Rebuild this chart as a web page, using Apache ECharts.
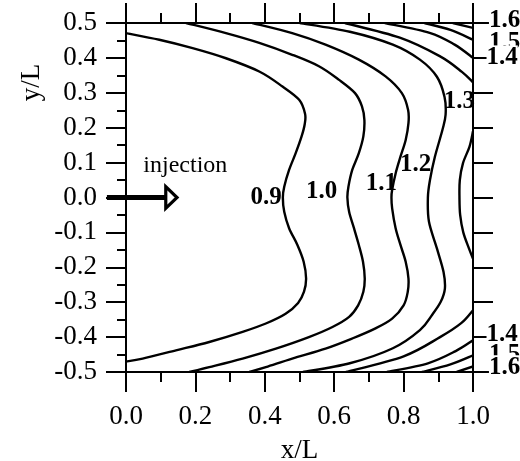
<!DOCTYPE html>
<html>
<head>
<meta charset="utf-8">
<script src="https://cdn.jsdelivr.net/npm/echarts@6/dist/echarts.min.js"></script>
<style>html,body{margin:0;padding:0;background:#fff}#main{width:520px;height:461px}</style>
</head>
<body>
<div id="main"></div>
<script>
// ---- tick labels ----
const xTickLabels = ['0.0','0.2','0.4','0.6','0.8','1.0'];
const yTickLabels = ['-0.5','-0.4','-0.3','-0.2','-0.1','0.0','0.1','0.2','0.3','0.4','0.5'];

// ---- contour lines [x/L, y/L] ----
const c09 = [[0,0.471],[0.096,0.452],[0.192,0.428],[0.288,0.399],[0.384,0.361],[0.451,0.318],[0.499,0.280],[0.516,0.240],[0.515,0.210],[0.506,0.175],[0.489,0.127],[0.470,0.079],[0.456,0.031],[0.452,0.0],[0.456,-0.041],[0.470,-0.088],[0.494,-0.136],[0.512,-0.184],[0.519,-0.232],[0.513,-0.270],[0.496,-0.302],[0.460,-0.333],[0.403,-0.361],[0.336,-0.385],[0.240,-0.414],[0.144,-0.438],[0.048,-0.4615],[0,-0.470]];
const c10 = [[0.173,0.5],[0.288,0.471],[0.384,0.443],[0.479,0.409],[0.556,0.376],[0.614,0.337],[0.660,0.299],[0.680,0.261],[0.687,0.222],[0.684,0.175],[0.671,0.127],[0.652,0.079],[0.641,0.031],[0.638,0.0],[0.643,-0.041],[0.657,-0.088],[0.671,-0.136],[0.683,-0.184],[0.688,-0.232],[0.684,-0.270],[0.669,-0.309],[0.643,-0.342],[0.595,-0.371],[0.527,-0.400],[0.432,-0.433],[0.336,-0.4615],[0.240,-0.486],[0.182,-0.5]];
const c11 = [[0.364,0.5],[0.479,0.471],[0.575,0.438],[0.671,0.395],[0.748,0.347],[0.795,0.299],[0.813,0.251],[0.814,0.213],[0.806,0.165],[0.791,0.117],[0.777,0.069],[0.767,0.022],[0.765,0.0],[0.767,-0.031],[0.777,-0.088],[0.791,-0.136],[0.806,-0.184],[0.814,-0.232],[0.812,-0.270],[0.800,-0.309],[0.767,-0.347],[0.719,-0.375],[0.652,-0.404],[0.575,-0.433],[0.479,-0.4615],[0.403,-0.486],[0.355,-0.5]];
const c12 = [[0.501,0.5],[0.645,0.475],[0.769,0.438],[0.847,0.395],[0.896,0.346],[0.918,0.288],[0.921,0.237],[0.912,0.194],[0.890,0.116],[0.876,0.050],[0.870,0.0],[0.873,-0.069],[0.896,-0.146],[0.915,-0.213],[0.919,-0.261],[0.907,-0.299],[0.883,-0.335],[0.847,-0.380],[0.769,-0.432],[0.645,-0.475],[0.510,-0.5]];
const c13Top = [[0.631,0.5],[0.789,0.458],[0.904,0.405],[0.968,0.360],[1.0,0.330]];
const c13Mid = [[1.0,0.190],[0.990,0.146],[0.971,0.098],[0.962,0.050],[0.961,0.0],[0.963,-0.050],[0.972,-0.100],[0.988,-0.145],[1.0,-0.175]];
const c13Bot = [[1.0,-0.323],[0.966,-0.360],[0.905,-0.400],[0.800,-0.455],[0.634,-0.5]];
const c14Top = [[0.746,0.5],[0.875,0.472],[0.947,0.438],[1.0,0.400]];
const c14Bot = [[1.0,-0.409],[0.950,-0.440],[0.870,-0.475],[0.752,-0.5]];
const c15Top = [[0.860,0.5],[0.935,0.480],[1.0,0.452]];
const c15Bot = [[1.0,-0.452],[0.935,-0.478],[0.853,-0.5]];
const c16Top = [[0.942,0.5],[1.0,0.486]];
const c16Bot = [[1.0,-0.484],[0.953,-0.5]];

// ---- contour level labels [text, x/L, y/L] ----
const innerLabels = [['0.9',0.404,0.0],['1.0',0.564,0.017],['1.1',0.736,0.041],['1.2',0.835,0.093],['1.3',0.961,0.275]];
const edgeLabels = [['1.6',1.091,0.507],['1.5',1.091,0.443],['1.4',1.084,0.400],['1.4',1.084,-0.392],['1.5',1.091,-0.451],['1.6',1.091,-0.488]];

// ---- injection annotation (data coords) ----
const arrowShaft = [[-0.055,0.0],[0.113,0.0]];
const arrowHead = [[0.1146,0.031],[0.147,0.0],[0.1146,-0.031]];
const injectionText = ['injection',0.171,0.090];

const contours = [c09,c10,c11,c12,c13Top,c13Mid,c13Bot,c14Top,c14Bot,c15Top,c15Bot,c16Top,c16Bot];

const FONT = '"Liberation Serif","Times New Roman",serif';
const chart = echarts.init(document.getElementById('main'), null, {renderer:'canvas'});

const lineSt = {color:'#000', width:2};
function xAx(pos, showLabel){
  return {
    type:'value', position:pos, min:0, max:1, interval:0.2,
    axisLine:{show:true, onZero:false, lineStyle:lineSt},
    axisTick:{show:true, length:20, inside:false, lineStyle:lineSt},
    minorTick:{show:true, splitNumber:2, length:10, lineStyle:lineSt},
    splitLine:{show:false}, minorSplitLine:{show:false},
    axisLabel:{show:showLabel, margin:31, fontFamily:FONT, fontSize:27, color:'#000',
      formatter:(v)=>xTickLabels[Math.round(v/0.2)]},
    name: showLabel ? 'x/L' : '', nameLocation:'middle', nameGap:65,
    nameTextStyle:{fontFamily:FONT, fontSize:27, color:'#000'}
  };
}
function yAx(pos, showLabel, minor){
  return {
    type:'value', position:pos, min:-0.5, max:0.5, interval:0.1,
    axisLine:{show:true, onZero:false, lineStyle:lineSt},
    axisTick:{show:true, length:20, inside:false, lineStyle:lineSt},
    minorTick:{show:minor, splitNumber:2, length:9, lineStyle:lineSt},
    splitLine:{show:false}, minorSplitLine:{show:false},
    axisLabel:{show:showLabel, margin:29, fontFamily:FONT, fontSize:27, color:'#000',
      formatter:(v)=>yTickLabels[Math.round((v+0.5)/0.1)]}
  };
}

// smooth curve through the contour points, positioned via the axes (api.coord)
function smoothPath(pts){
  if (pts.length < 3) {
    return 'M' + pts.map(p => p[0] + ' ' + p[1]).join(' L');
  }
  let d = 'M' + pts[0][0] + ' ' + pts[0][1];
  for (let i = 0; i < pts.length - 1; i++) {
    const p0 = pts[Math.max(i - 1, 0)], p1 = pts[i], p2 = pts[i + 1], p3 = pts[Math.min(i + 2, pts.length - 1)];
    const c1x = p1[0] + (p2[0] - p0[0]) / 6, c1y = p1[1] + (p2[1] - p0[1]) / 6;
    const c2x = p2[0] - (p3[0] - p1[0]) / 6, c2y = p2[1] - (p3[1] - p1[1]) / 6;
    d += ' C' + c1x + ' ' + c1y + ' ' + c2x + ' ' + c2y + ' ' + p2[0] + ' ' + p2[1];
  }
  return d;
}

chart.setOption({
  animation:false,
  backgroundColor:'#fff',
  grid:{left:126, right:47, top:23, bottom:89, containLabel:false, outerBoundsMode:'none'},
  xAxis:[xAx('bottom', true), xAx('top', false)],
  yAxis:[yAx('left', true, true), yAx('right', false, false)],
  series:[{
    type:'custom', coordinateSystem:'cartesian2d', xAxisIndex:0, yAxisIndex:0, silent:true, clip:true, z:2,
    data: contours.map((c, i) => [c[0][0], c[0][1], i]),
    encode:{x:0, y:1},
    renderItem:function(params, api){
      const c = contours[api.value(2)];
      const pts = c.map(p => api.coord(p));
      return {type:'path', shape:{pathData:smoothPath(pts)},
        style:{stroke:'#000', fill:null, lineWidth:2.4, lineJoin:'round'}};
    }
  }]
});

function px(p){ return chart.convertToPixel({gridIndex:0}, p); }

const g = [];
innerLabels.forEach(l => {
  const p = px([l[1], l[2]]);
  g.push({type:'text', z:20, style:{text:l[0], x:p[0], y:p[1], font:'bold 25px '+FONT, fill:'#000',
    align:'center', verticalAlign:'middle', textAlign:'center', textVerticalAlign:'middle'}});
});
edgeLabels.forEach((l,i) => {
  const p = px([l[1], l[2]]);
  g.push({type:'text', z:20 + i, style:{text:l[0], x:p[0], y:p[1], font:'bold 25px '+FONT, fill:'#000',
    backgroundColor:'#fff', align:'center', verticalAlign:'middle', textAlign:'center', textVerticalAlign:'middle'}});
});
const s0 = px(arrowShaft[0]), s1 = px(arrowShaft[1]);
g.push({type:'line', z:30, shape:{x1:s0[0], y1:s0[1], x2:s1[0], y2:s1[1]}, style:{stroke:'#000', lineWidth:5}});
g.push({type:'polygon', z:31, shape:{points:arrowHead.map(px)}, style:{fill:'#fff', stroke:'#000', lineWidth:3.2, lineJoin:'miter'}});
const it = px([injectionText[1], injectionText[2]]);
g.push({type:'text', z:20, style:{text:injectionText[0], x:it[0], y:it[1], font:'24px '+FONT, fill:'#000',
  align:'center', verticalAlign:'middle', textAlign:'center', textVerticalAlign:'middle'}});
g.push({type:'text', z:20, x:31.5, y:82.5, rotation:Math.PI/2, style:{text:'y/L', x:0, y:0, font:'27px '+FONT, fill:'#000',
  align:'center', verticalAlign:'middle', textAlign:'center', textVerticalAlign:'middle'}});

chart.setOption({graphic:{elements:g}});
</script>
</body>
</html>
